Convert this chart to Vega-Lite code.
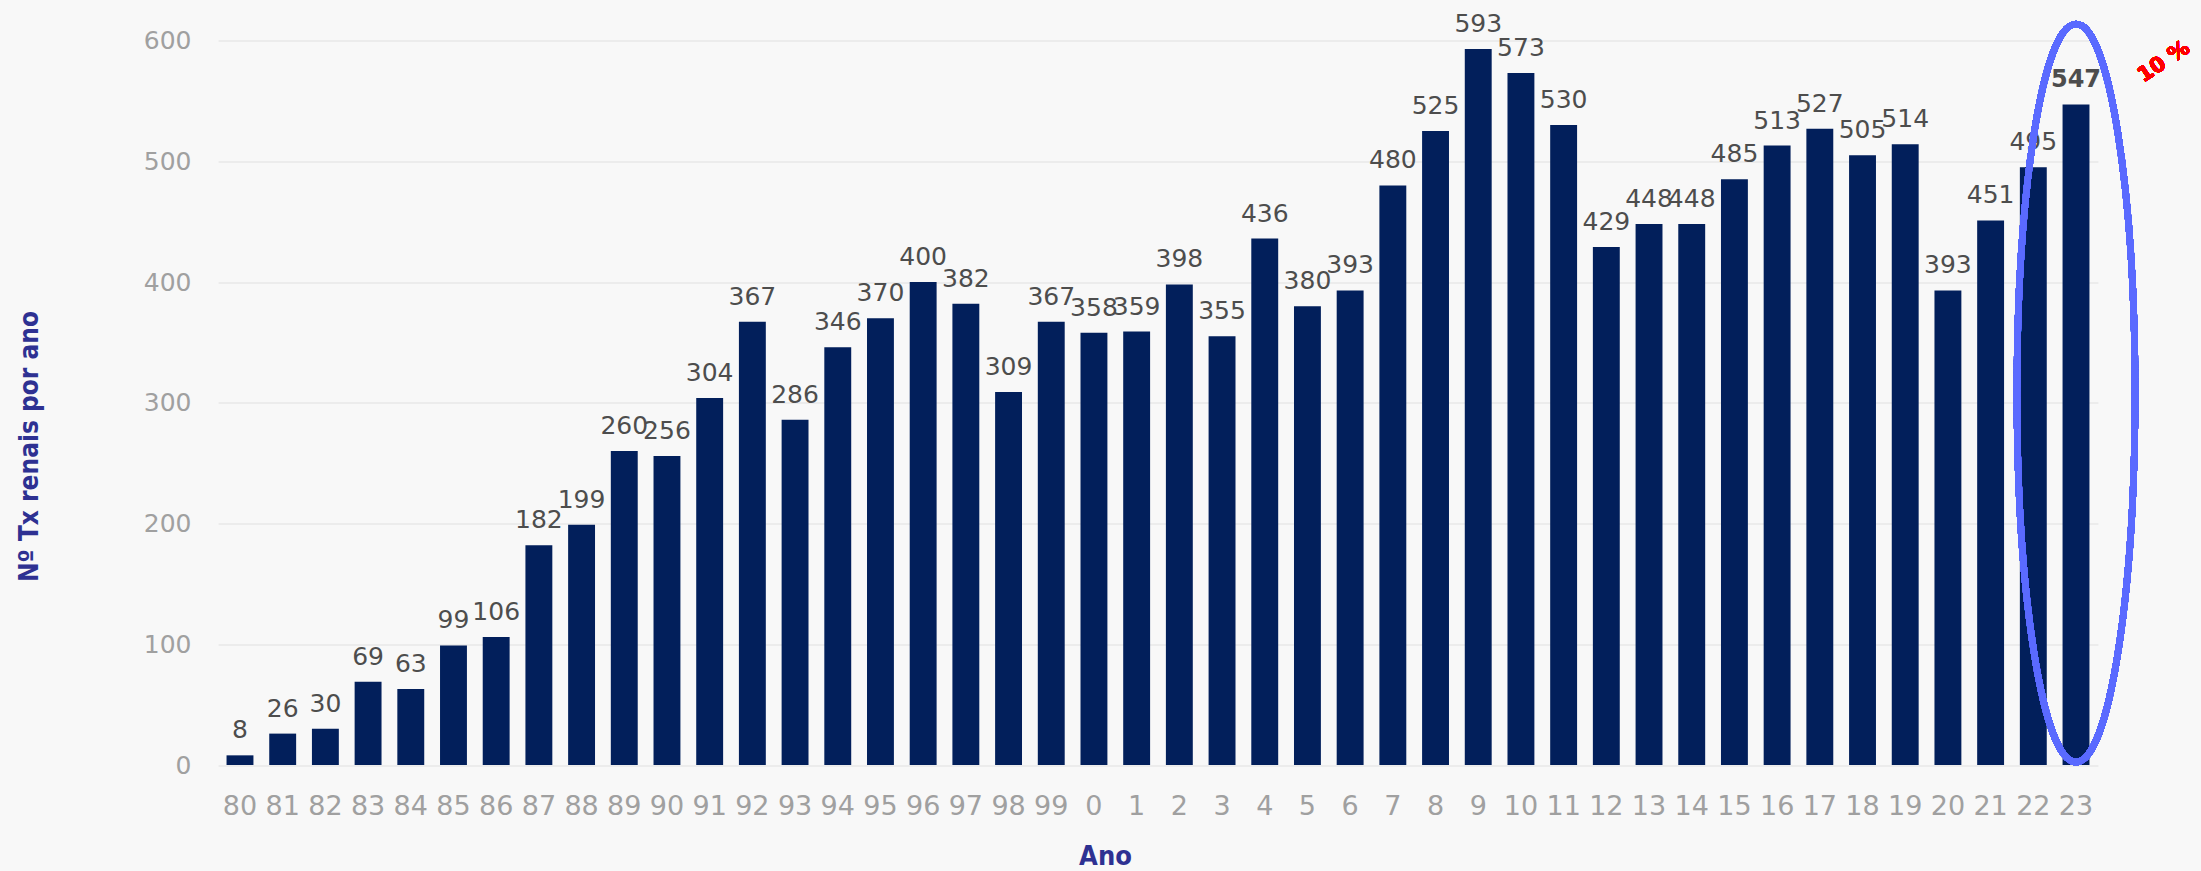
{
  "$schema": "https://vega.github.io/schema/vega-lite/v6.json",
  "width": 1880,
  "height": 724.5,
  "autosize": {"type": "none"},
  "padding": {"left": 218, "top": 40.5, "right": 103, "bottom": 106},
  "background": "#f8f8f8",
  "config": {"view": {"stroke": null}},
  "data": {
    "values": [
      {"ano": "80", "n": 8}, {"ano": "81", "n": 26}, {"ano": "82", "n": 30}, {"ano": "83", "n": 69},
      {"ano": "84", "n": 63}, {"ano": "85", "n": 99}, {"ano": "86", "n": 106}, {"ano": "87", "n": 182},
      {"ano": "88", "n": 199}, {"ano": "89", "n": 260}, {"ano": "90", "n": 256}, {"ano": "91", "n": 304},
      {"ano": "92", "n": 367}, {"ano": "93", "n": 286}, {"ano": "94", "n": 346}, {"ano": "95", "n": 370},
      {"ano": "96", "n": 400}, {"ano": "97", "n": 382}, {"ano": "98", "n": 309}, {"ano": "99", "n": 367},
      {"ano": "0", "n": 358}, {"ano": "1", "n": 359}, {"ano": "2", "n": 398}, {"ano": "3", "n": 355},
      {"ano": "4", "n": 436}, {"ano": "5", "n": 380}, {"ano": "6", "n": 393}, {"ano": "7", "n": 480},
      {"ano": "8", "n": 525}, {"ano": "9", "n": 593}, {"ano": "10", "n": 573}, {"ano": "11", "n": 530},
      {"ano": "12", "n": 429}, {"ano": "13", "n": 448}, {"ano": "14", "n": 448}, {"ano": "15", "n": 485},
      {"ano": "16", "n": 513}, {"ano": "17", "n": 527}, {"ano": "18", "n": 505}, {"ano": "19", "n": 514},
      {"ano": "20", "n": 393}, {"ano": "21", "n": 451}, {"ano": "22", "n": 495}, {"ano": "23", "n": 547}
    ]
  },
  "encoding": {
    "x": {
      "field": "ano", "type": "ordinal", "sort": null,
      "scale": {"paddingInner": 0.37, "paddingOuter": 0.2},
      "axis": {
        "title": "Ano", "labelAngle": 0, "ticks": false, "tickSize": 0, "domain": false,
        "labelFont": "DejaVu Sans", "labelFontSize": 27, "labelColor": "#a0a0a0",
        "labelBaseline": "alphabetic", "labelPadding": 49,
        "titleFont": "Liberation Sans Narrow, DejaVu Sans Condensed, DejaVu Sans", "titleFontSize": 27, "titleFontWeight": "bold",
        "titleColor": "#2e3192", "titleX": 887, "titleY": 99, "titleAlign": "center", "titleBaseline": "alphabetic"
      }
    },
    "y": {
      "field": "n", "type": "quantitative",
      "scale": {"domain": [0, 600], "nice": false},
      "axis": {
        "title": "Nº Tx renais por ano", "values": [0, 100, 200, 300, 400, 500, 600],
        "ticks": false, "tickSize": 0, "domain": false,
        "grid": true, "gridColor": "#e9e9e9", "gridWidth": 1.5,
        "labelFont": "DejaVu Sans", "labelFontSize": 25, "labelColor": "#a0a0a0", "labelPadding": 27,
        "titleFont": "Liberation Sans Narrow, DejaVu Sans Condensed, DejaVu Sans", "titleFontSize": 26, "titleFontWeight": "bold",
        "titleColor": "#2e3192", "titleAngle": -90, "titleX": -181, "titleY": 405.5, "titleAlign": "center", "titleBaseline": "alphabetic"
      }
    }
  },
  "layer": [
    {"mark": {"type": "bar", "color": "#021f5b"}},
    {
      "transform": [{"filter": "datum.ano !== '23'"}],
      "mark": {"type": "text", "font": "DejaVu Sans", "fontSize": 25, "color": "#4d4d4d", "baseline": "alphabetic", "dy": -17},
      "encoding": {"text": {"field": "n", "type": "quantitative"}}
    },
    {
      "transform": [{"filter": "datum.ano === '23'"}],
      "mark": {"type": "text", "font": "DejaVu Sans", "fontSize": 24, "fontWeight": "bold", "color": "#4d4d4d", "baseline": "alphabetic", "dy": -17},
      "encoding": {"text": {"field": "n", "type": "quantitative"}}
    },
    {
      "mark": {
        "type": "point", "filled": false, "stroke": "#5a6aff", "strokeWidth": 6.5, "opacity": 1,
        "size": 544644, "dx": -2,
        "shape": "M 0 -1 C 0.0884 -1 0.16 -0.5523 0.16 0 C 0.16 0.5523 0.0884 1 0 1 C -0.0884 1 -0.16 0.5523 -0.16 0 C -0.16 -0.5523 -0.0884 -1 0 -1 Z"
      },
      "encoding": {
        "x": {"datum": "23", "type": "ordinal"},
        "y": {"datum": 308, "type": "quantitative"}
      }
    },
    {
      "mark": {
        "type": "text", "text": "10 %", "font": "DejaVu Sans", "fontSize": 21, "fontWeight": "bold",
        "color": "#ff0000", "angle": -34, "align": "center", "baseline": "middle", "dx": 73, "dy": 49
      },
      "encoding": {
        "x": {"datum": "23", "type": "ordinal"},
        "y": {"datum": 582, "type": "quantitative"}
      }
    }
  ]
}
